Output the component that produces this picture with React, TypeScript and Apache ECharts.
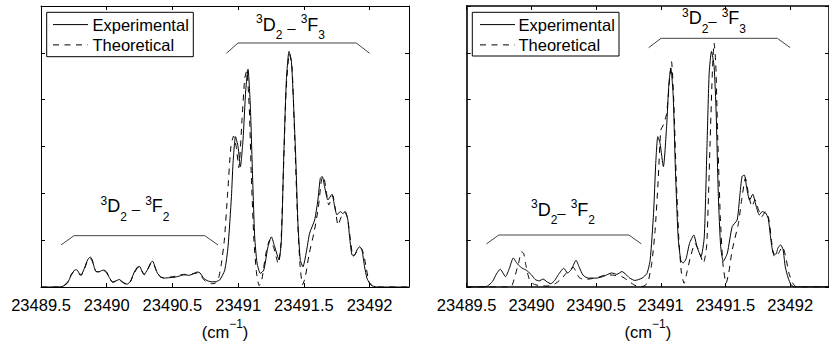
import React, { useEffect, useRef } from "react";
import * as echarts from "echarts";

// ---------- data (wavenumber in cm^-1, intensity in arbitrary units) ----------
const xTickStep = 0.5;
const xMin = 23489.5;
const xMax = 23492.3;
const yMin = 0;
const yMax = 6;

const legendNames = ["Experimental", "Theoretical"];

const leftExperimental: [number, number][] = [
  [23489.5, 0], [23489.6, 0], [23489.66, 0.01], [23489.7, 0.08], [23489.73, 0.25],
  [23489.755, 0.36], [23489.77, 0.37], [23489.79, 0.3], [23489.805, 0.26], [23489.83, 0.4],
  [23489.855, 0.58], [23489.875, 0.64], [23489.89, 0.58], [23489.905, 0.42], [23489.92, 0.33],
  [23489.94, 0.32], [23489.96, 0.35], [23489.98, 0.36], [23490.0, 0.32], [23490.02, 0.2],
  [23490.045, 0.11], [23490.07, 0.13], [23490.095, 0.16], [23490.12, 0.11], [23490.155, 0.06],
  [23490.18, 0.12], [23490.21, 0.32], [23490.235, 0.43], [23490.25, 0.44], [23490.265, 0.36],
  [23490.285, 0.27], [23490.31, 0.37], [23490.335, 0.52], [23490.35, 0.55], [23490.365, 0.45],
  [23490.385, 0.3], [23490.41, 0.22], [23490.44, 0.19], [23490.48, 0.2], [23490.52, 0.21],
  [23490.56, 0.24], [23490.59, 0.26], [23490.625, 0.25], [23490.65, 0.27], [23490.69, 0.32],
  [23490.71, 0.3], [23490.74, 0.18], [23490.77, 0.13], [23490.8, 0.11], [23490.835, 0.12],
  [23490.86, 0.15], [23490.898, 0.36], [23490.923, 0.86], [23490.949, 1.93], [23490.961, 2.64],
  [23490.98, 3.21], [23490.999, 3.0], [23491.017, 2.57], [23491.037, 3.14], [23491.058, 4.21],
  [23491.075, 4.65], [23491.093, 3.85], [23491.109, 2.43], [23491.126, 1.07], [23491.144, 0.51],
  [23491.169, 0.29], [23491.195, 0.36], [23491.227, 0.86], [23491.253, 1.07], [23491.278, 0.86],
  [23491.311, 0.58], [23491.329, 1.0], [23491.347, 2.78], [23491.367, 4.42], [23491.387, 5.03],
  [23491.404, 4.85], [23491.417, 4.21], [23491.438, 2.78], [23491.455, 1.36], [23491.473, 0.58],
  [23491.493, 0.43], [23491.519, 0.75], [23491.544, 1.15], [23491.582, 1.43], [23491.607, 1.86],
  [23491.625, 2.32], [23491.64, 2.36], [23491.658, 2.14], [23491.683, 1.86], [23491.714, 1.98],
  [23491.734, 1.72], [23491.752, 1.54], [23491.777, 1.61], [23491.797, 1.57], [23491.815, 1.61],
  [23491.835, 1.43], [23491.848, 1.07], [23491.868, 0.68], [23491.885, 0.68], [23491.904, 0.79],
  [23491.924, 0.86], [23491.942, 0.79], [23491.962, 0.43], [23491.98, 0.19], [23492.0, 0.08],
  [23492.025, 0.02], [23492.06, 0], [23492.3, 0],
];

const leftTheoretical: [number, number][] = [
  [23489.5, 0], [23489.62, 0], [23489.67, 0.02], [23489.7, 0.1], [23489.73, 0.27],
  [23489.75, 0.33], [23489.77, 0.33], [23489.79, 0.27], [23489.805, 0.25], [23489.83, 0.38],
  [23489.855, 0.57], [23489.875, 0.61], [23489.89, 0.55], [23489.905, 0.41], [23489.92, 0.33],
  [23489.94, 0.33], [23489.96, 0.36], [23489.98, 0.35], [23490.0, 0.3], [23490.02, 0.19],
  [23490.045, 0.1], [23490.07, 0.12], [23490.095, 0.15], [23490.12, 0.1], [23490.155, 0.05],
  [23490.18, 0.11], [23490.21, 0.3], [23490.235, 0.41], [23490.25, 0.42], [23490.265, 0.35],
  [23490.285, 0.26], [23490.31, 0.36], [23490.335, 0.5], [23490.35, 0.53], [23490.365, 0.44],
  [23490.385, 0.29], [23490.41, 0.21], [23490.44, 0.19], [23490.48, 0.21], [23490.52, 0.23],
  [23490.56, 0.26], [23490.59, 0.27], [23490.625, 0.26], [23490.65, 0.28], [23490.69, 0.3],
  [23490.71, 0.27], [23490.74, 0.15], [23490.77, 0.09], [23490.8, 0.07], [23490.83, 0.09],
  [23490.85, 0.18], [23490.87, 0.45], [23490.895, 1.0], [23490.92, 2.0], [23490.945, 3.0],
  [23490.965, 3.22], [23490.985, 3.0], [23491.005, 2.55], [23491.03, 3.6], [23491.05, 4.45],
  [23491.065, 4.62], [23491.085, 3.8], [23491.1, 2.4], [23491.12, 1.0], [23491.14, 0.3],
  [23491.16, 0.03], [23491.18, 0.15], [23491.21, 0.7], [23491.24, 1.0], [23491.27, 0.85],
  [23491.305, 0.5], [23491.325, 0.9], [23491.345, 2.5], [23491.365, 4.2], [23491.39, 4.98],
  [23491.41, 4.7], [23491.43, 3.2], [23491.45, 1.6], [23491.47, 0.5], [23491.49, 0.05],
  [23491.51, 0.2], [23491.54, 0.7], [23491.58, 1.2], [23491.61, 1.7], [23491.635, 2.3],
  [23491.65, 2.36], [23491.67, 2.05], [23491.69, 1.75], [23491.72, 1.95], [23491.74, 1.65],
  [23491.76, 1.32], [23491.785, 1.5], [23491.81, 1.6], [23491.83, 1.5], [23491.855, 1.0],
  [23491.875, 0.65], [23491.91, 0.78], [23491.935, 0.83], [23491.955, 0.7], [23491.975, 0.4],
  [23491.995, 0.12], [23492.02, 0.02], [23492.05, 0], [23492.3, 0],
];

const rightExperimental: [number, number][] = [
  [23489.5, 0], [23489.62, 0], [23489.66, 0.02], [23489.7, 0.12], [23489.73, 0.28],
  [23489.76, 0.38], [23489.78, 0.3], [23489.8, 0.22], [23489.83, 0.4], [23489.86, 0.62],
  [23489.88, 0.54], [23489.9, 0.47], [23489.93, 0.4], [23489.96, 0.36], [23490.0, 0.26],
  [23490.03, 0.16], [23490.06, 0.13], [23490.09, 0.17], [23490.12, 0.11], [23490.15, 0.07],
  [23490.18, 0.14], [23490.21, 0.27], [23490.25, 0.4], [23490.28, 0.3], [23490.31, 0.38],
  [23490.345, 0.57], [23490.37, 0.42], [23490.4, 0.25], [23490.44, 0.19], [23490.5, 0.19],
  [23490.56, 0.23], [23490.62, 0.3], [23490.66, 0.27], [23490.7, 0.33], [23490.73, 0.27],
  [23490.76, 0.19], [23490.8, 0.14], [23490.855, 0.19], [23490.893, 0.29], [23490.918, 0.58],
  [23490.944, 1.57], [23490.961, 2.64], [23490.977, 3.21], [23490.994, 3.07], [23491.02, 2.57],
  [23491.045, 3.43], [23491.063, 4.35], [23491.078, 4.67], [23491.096, 4.07], [23491.113, 2.5],
  [23491.134, 1.07], [23491.154, 0.58], [23491.172, 0.51], [23491.195, 0.6], [23491.222, 0.93],
  [23491.255, 1.11], [23491.28, 0.86], [23491.311, 0.65], [23491.336, 1.07], [23491.357, 3.0],
  [23491.374, 4.57], [23491.392, 5.03], [23491.412, 4.71], [23491.428, 3.71], [23491.445, 1.93],
  [23491.463, 0.86], [23491.483, 0.55], [23491.514, 0.72], [23491.552, 1.29], [23491.59, 1.43],
  [23491.61, 1.93], [23491.628, 2.36], [23491.646, 2.39], [23491.665, 2.1], [23491.686, 1.86],
  [23491.711, 1.98], [23491.735, 1.75], [23491.761, 1.54], [23491.785, 1.61], [23491.81, 1.58],
  [23491.83, 1.47], [23491.848, 1.07], [23491.868, 0.72], [23491.89, 0.7], [23491.905, 0.83],
  [23491.926, 0.9], [23491.945, 0.8], [23491.962, 0.43], [23491.985, 0.19], [23492.008, 0.04],
  [23492.04, 0], [23492.3, 0],
];

const rightTheoretical: [number, number][] = [
  [23489.5, 0], [23489.83, 0], [23489.85, 0.03], [23489.87, 0.2], [23489.9, 0.5],
  [23489.925, 0.75], [23489.94, 0.72], [23489.955, 0.5], [23489.97, 0.3], [23489.99, 0.12],
  [23490.02, 0.06], [23490.06, 0.03], [23490.12, 0.02], [23490.15, 0.03], [23490.19, 0.08],
  [23490.24, 0.2], [23490.27, 0.3], [23490.3, 0.38], [23490.325, 0.42], [23490.345, 0.32],
  [23490.37, 0.2], [23490.41, 0.16], [23490.47, 0.18], [23490.53, 0.22], [23490.58, 0.26],
  [23490.64, 0.25], [23490.7, 0.22], [23490.74, 0.15], [23490.79, 0.05], [23490.83, 0.01],
  [23490.87, 0.02], [23490.9, 0.1], [23490.93, 0.5], [23490.956, 1.21], [23490.98, 2.29],
  [23491.0, 3.35], [23491.02, 3.46], [23491.045, 3.7], [23491.07, 4.5], [23491.083, 4.81],
  [23491.1, 4.0], [23491.12, 2.3], [23491.14, 1.0], [23491.16, 0.29], [23491.18, 0.08],
  [23491.205, 0.35], [23491.23, 0.65], [23491.265, 0.93], [23491.29, 0.8], [23491.33, 0.51],
  [23491.355, 0.9], [23491.38, 3.0], [23491.4, 4.7], [23491.412, 5.21], [23491.425, 4.75],
  [23491.44, 3.2], [23491.46, 1.5], [23491.48, 0.5], [23491.505, 0.08], [23491.525, 0.3],
  [23491.552, 0.79], [23491.6, 1.36], [23491.625, 1.86], [23491.654, 2.32], [23491.68, 1.95],
  [23491.704, 1.72], [23491.729, 1.86], [23491.755, 1.65], [23491.78, 1.5], [23491.81, 1.61],
  [23491.835, 1.45], [23491.86, 0.9], [23491.88, 0.64], [23491.91, 0.72], [23491.94, 0.86],
  [23491.965, 0.65], [23491.99, 0.3], [23492.02, 0.08], [23492.05, 0], [23492.3, 0],
];

// band brackets (data coordinates)
const leftF3Bracket: [number, number][] = [[23490.911, 4.99], [23490.999, 5.21], [23491.899, 5.21], [23492.0, 4.99]];
const leftF2Bracket: [number, number][] = [[23489.652, 0.897], [23489.751, 1.096], [23490.746, 1.096], [23490.847, 0.897]];
const rightF3Bracket: [number, number][] = [[23490.906, 5.11], [23491.002, 5.31], [23491.901, 5.31], [23492.0, 5.11]];
const rightF2Bracket: [number, number][] = [[23489.652, 0.919], [23489.748, 1.11], [23490.754, 1.11], [23490.85, 0.919]];

// ---------- styling ----------
const FONT = "'Liberation Sans', Arial, Helvetica, sans-serif";
const DASH = [6, 5.5];

const bandRich = {
  base: { fontSize: 18, lineHeight: 18, fontFamily: FONT, fill: "#000", verticalAlign: "bottom", padding: [0, 0, 7.5, 0] },
  sup: { fontSize: 12, lineHeight: 12, fontFamily: FONT, fill: "#000", verticalAlign: "bottom", padding: [0, 0, 16, 0] },
  sub: { fontSize: 12, lineHeight: 12, fontFamily: FONT, fill: "#000", verticalAlign: "bottom" },
  dash: { fontSize: 15, lineHeight: 15, fontFamily: FONT, fill: "#000", verticalAlign: "bottom", padding: [0, 0, 6.5, 0] },
};

function bandText(x: number, y: number, text: string) {
  return {
    type: "text",
    x,
    y,
    silent: true,
    style: { text, align: "center", verticalAlign: "top", rich: bandRich, fill: "#000", font: `18px ${FONT}` },
  };
}

function legendBox(left: number, top: number, w: number, h: number, lineX: number, textX: number) {
  const rowY = [top + 12.8, top + 33.1];
  return {
    type: "group",
    silent: true,
    children: [
      { type: "rect", shape: { x: left + 0.5, y: top + 0.5, width: w, height: h }, style: { fill: "#fff", stroke: "#000", lineWidth: 1 } },
      { type: "line", shape: { x1: lineX, y1: rowY[0], x2: lineX + 35, y2: rowY[0] }, style: { stroke: "#000", lineWidth: 1 } },
      { type: "line", shape: { x1: lineX, y1: rowY[1], x2: lineX + 35, y2: rowY[1] }, style: { stroke: "#000", lineWidth: 1, lineDash: DASH } },
      { type: "text", x: textX, y: rowY[0], style: { text: legendNames[0], font: `16.5px ${FONT}`, fill: "#000", verticalAlign: "middle", align: "left" } },
      { type: "text", x: textX, y: rowY[1], style: { text: legendNames[1], font: `16.5px ${FONT}`, fill: "#000", verticalAlign: "middle", align: "left" } },
    ],
  };
}

export default function App() {
  const ref = useRef<HTMLDivElement>(null);

  useEffect(() => {
    document.body.style.margin = "0";
    if (!ref.current) return;
    const chart = echarts.init(ref.current, undefined, { renderer: "svg" });

    const grids = [
      { left: 41, top: 6, width: 368, height: 281 },
      { left: 466.7, top: 6, width: 368, height: 281 },
    ];
    const frameWidth = [1, 1.6];

    const xAxes: any[] = [];
    const yAxes: any[] = [];
    grids.forEach((_, g) => {
      const line = { show: true, onZero: false, lineStyle: { color: "#000", width: frameWidth[g] } };
      const tick = { show: true, inside: true, length: 4, lineStyle: { color: "#000", width: 1 } };
      xAxes.push({
        gridIndex: g,
        type: "value",
        position: "bottom",
        min: xMin,
        max: xMax,
        interval: xTickStep,
        axisLine: line,
        axisTick: tick,
        splitLine: { show: false },
        axisLabel: {
          show: true,
          interval: 0,
          showMaxLabel: false,
          margin: 9,
          color: "#000",
          fontSize: 16.5,
          fontFamily: FONT,
          formatter: (v: number) => String(v),
        },
        name: "{b|(cm}{s|\u22121}{b|)}",
        nameLocation: "middle",
        nameGap: 37.2,
        nameTextStyle: {
          color: "#000",
          rich: {
            b: { fontSize: 16.5, lineHeight: 16.5, fontFamily: FONT, color: "#000", verticalAlign: "bottom" },
            s: { fontSize: 12, lineHeight: 12, fontFamily: FONT, color: "#000", verticalAlign: "bottom", padding: [0, 0, 10.7, 0] },
          },
        },
      });
      xAxes.push({
        gridIndex: g,
        type: "value",
        position: "top",
        min: xMin,
        max: xMax,
        interval: xTickStep,
        axisLine: line,
        axisTick: tick,
        splitLine: { show: false },
        axisLabel: { show: false },
      });
      ["left", "right"].forEach((pos) => {
        yAxes.push({
          gridIndex: g,
          type: "value",
          position: pos,
          min: yMin,
          max: yMax,
          interval: 1,
          axisLine: line,
          axisTick: tick,
          splitLine: { show: false },
          axisLabel: { show: false },
        });
      });
    });

    const specSeries = (name: string, data: [number, number][], g: number, dashed: boolean) => ({
      name,
      type: "line",
      xAxisIndex: g * 2,
      yAxisIndex: g * 2,
      data,
      symbol: "none",
      showSymbol: false,
      smooth: 0.2,
      lineStyle: { color: "#000", width: 1, type: dashed ? DASH : "solid" },
      itemStyle: { color: "#000" },
      emphasis: { disabled: true },
      z: dashed ? 3 : 4,
    });
    const bracketSeries = (name: string, data: [number, number][], g: number) => ({
      name,
      type: "line",
      xAxisIndex: g * 2,
      yAxisIndex: g * 2,
      data,
      symbol: "none",
      lineStyle: { color: "#444", width: 1 },
      emphasis: { disabled: true },
      silent: true,
    });

    chart.setOption({
      animation: false,
      backgroundColor: "#fff",
      grid: grids,
      xAxis: xAxes,
      yAxis: yAxes,
      series: [
        specSeries(legendNames[0], leftExperimental, 0, false),
        specSeries(legendNames[1], leftTheoretical, 0, true),
        specSeries(legendNames[0], rightExperimental, 1, false),
        specSeries(legendNames[1], rightTheoretical, 1, true),
        bracketSeries("leftF3", leftF3Bracket, 0),
        bracketSeries("leftF2", leftF2Bracket, 0),
        bracketSeries("rightF3", rightF3Bracket, 1),
        bracketSeries("rightF2", rightF2Bracket, 1),
      ],
      graphic: [
        legendBox(46.2, 11.8, 146.6, 44.4, 53, 92.5),
        legendBox(471.8, 11.8, 146.7, 43.7, 480, 518.5),
        bandText(290.5, 23.25, "{sup|3}{base|D}{sub|2}{base| }{dash|\u2013}{base| }{sup|3}{base|F}{sub|3}"),
        bandText(135, 204.5, "{sup|3}{base|D}{sub|2}{base| }{dash|\u2013}{base| }{sup|3}{base|F}{sub|2}"),
        bandText(714, 16.65, "{sup|3}{base|D}{sub|2}{dash|\u2013}{base| }{sup|3}{base|F}{sub|3}"),
        bandText(563, 208.3, "{sup|3}{base|D}{sub|2}{dash|\u2013}{base| }{sup|3}{base|F}{sub|2}"),
      ],
    });

    return () => chart.dispose();
  }, []);

  return <div ref={ref} style={{ width: 829, height: 347 }} />;
}
